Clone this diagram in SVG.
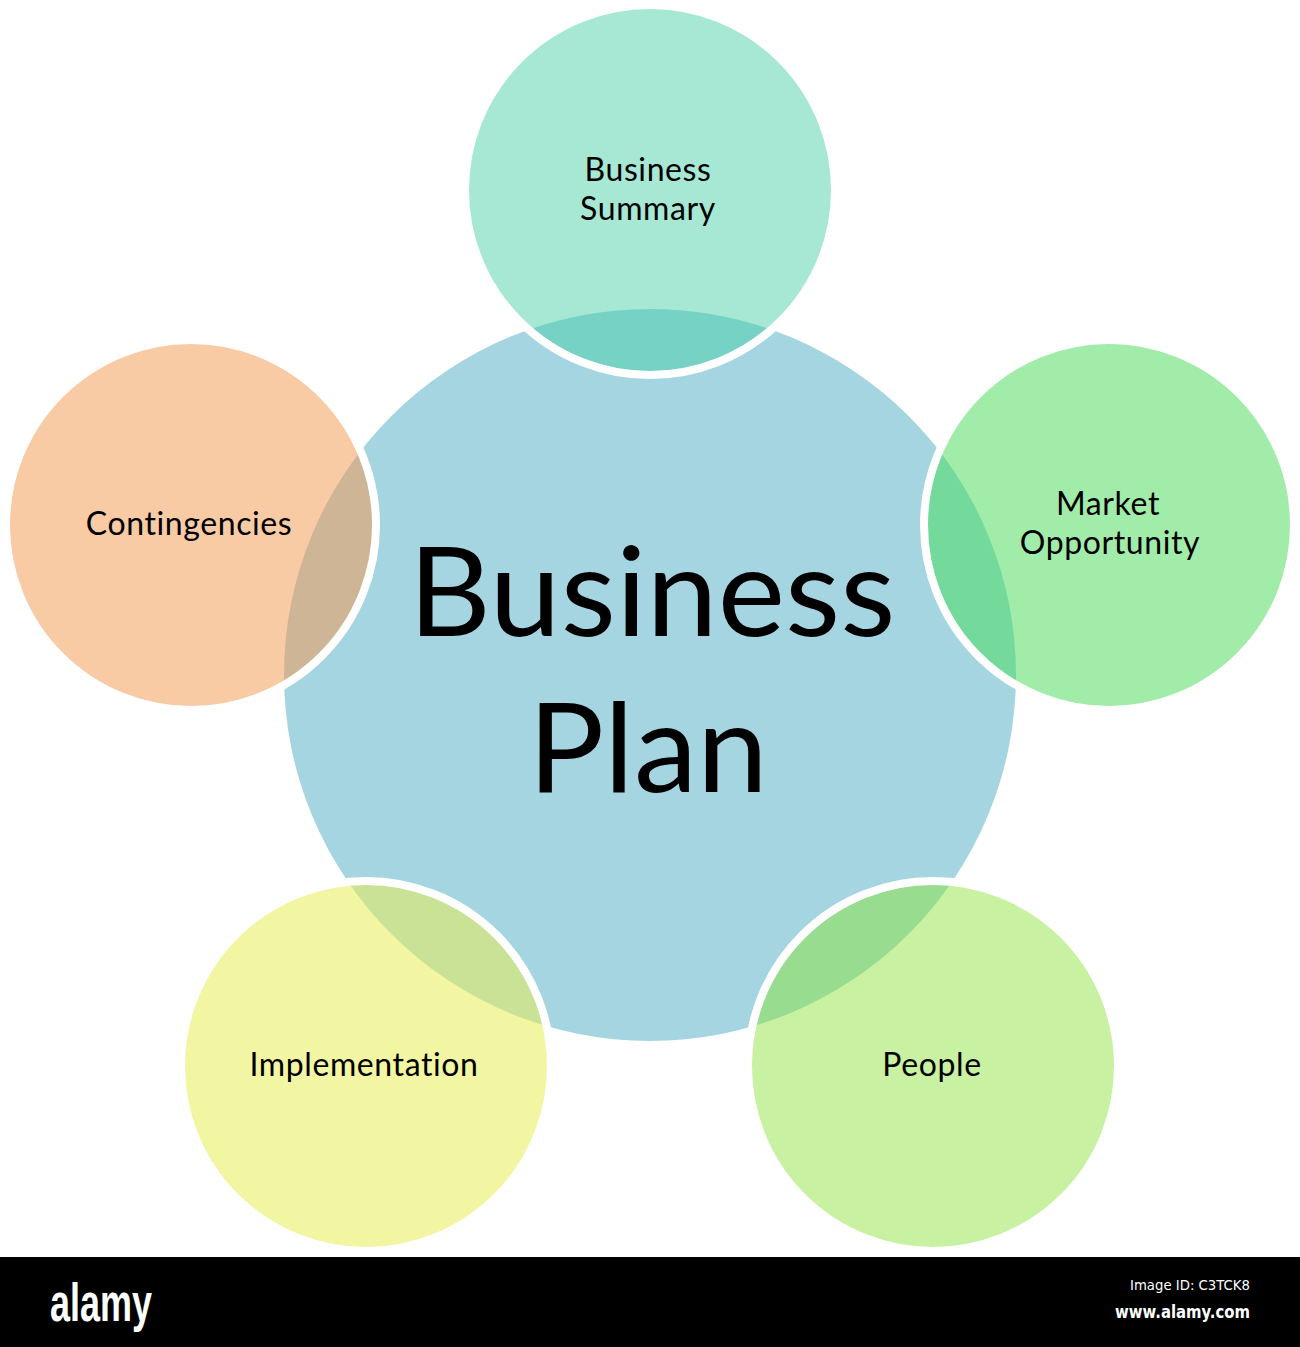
<svg xmlns="http://www.w3.org/2000/svg" width="1300" height="1347" viewBox="0 0 1300 1347">
<style>
.ring{fill:none;stroke:#ffffff;stroke-width:8}
.lbl{font-family:Lato,"Noto Sans",sans-serif;font-size:32px;letter-spacing:0.6px;fill:#000;text-anchor:middle}
.big{font-family:Lato,"Noto Sans",sans-serif;font-size:124px;fill:#000;text-anchor:middle}
</style>
<defs>
<clipPath id="cBS"><circle cx="650" cy="190" r="185"/></clipPath>
<clipPath id="cMO"><circle cx="1109" cy="525" r="185"/></clipPath>
<clipPath id="cCO"><circle cx="191" cy="525" r="185"/></clipPath>
<clipPath id="cIM"><circle cx="366" cy="1066" r="185"/></clipPath>
<clipPath id="cPE"><circle cx="933" cy="1066" r="185"/></clipPath>
</defs>
<rect width="1300" height="1347" fill="#ffffff"/>
<g id="connectors"/>
<g id="center">
<circle cx="650" cy="675" r="366" fill="#A6D5E2"/>
</g>
<g id="business-summary">
<circle cx="650" cy="190" r="185" fill="#A6E8D4"/>
<circle cx="650" cy="675" r="366" fill="#76D2C4" clip-path="url(#cBS)"/>
<circle class="ring" cx="650" cy="190" r="185"/>
<text class="lbl" x="648" y="181">Business</text>
<text class="lbl" x="648" y="220">Summary</text>
</g>
<g id="market-opportunity">
<circle cx="1109" cy="525" r="185" fill="#A2ECAA"/>
<circle cx="650" cy="675" r="366" fill="#74DA9C" clip-path="url(#cMO)"/>
<circle class="ring" cx="1109" cy="525" r="185"/>
<text class="lbl" x="1108" y="515">Market</text>
<text class="lbl" x="1110" y="554">Opportunity</text>
</g>
<g id="contingencies">
<circle cx="191" cy="525" r="185" fill="#F8CBA5"/>
<circle cx="650" cy="675" r="366" fill="#CEB595" clip-path="url(#cCO)"/>
<circle class="ring" cx="191" cy="525" r="185"/>
<text class="lbl" x="189" y="535">Contingencies</text>
</g>
<g id="implementation">
<circle cx="366" cy="1066" r="185" fill="#F2F6A2"/>
<circle cx="650" cy="675" r="366" fill="#CAE296" clip-path="url(#cIM)"/>
<circle class="ring" cx="366" cy="1066" r="185"/>
<text class="lbl" x="364" y="1076">Implementation</text>
</g>
<g id="people">
<circle cx="933" cy="1066" r="185" fill="#C8F2A2"/>
<circle cx="650" cy="675" r="366" fill="#98DC90" clip-path="url(#cPE)"/>
<circle class="ring" cx="933" cy="1066" r="185"/>
<text class="lbl" x="932" y="1076">People</text>
</g>
<g id="center-label">
<text class="big" x="652" y="636" textLength="487" lengthAdjust="spacingAndGlyphs">Business</text>
<text class="big" x="648" y="792" textLength="240" lengthAdjust="spacingAndGlyphs">Plan</text>
</g>
<g id="footer">
<rect x="0" y="1257" width="1300" height="90" fill="#000000"/>
<text x="50" y="1321" font-family="'Liberation Sans',sans-serif" font-weight="bold" font-size="54" fill="#ffffff" textLength="102" lengthAdjust="spacingAndGlyphs">alamy</text>
<text x="1250" y="1290" font-family="'DejaVu Sans',sans-serif" font-size="14" fill="#ffffff" text-anchor="end" textLength="120" lengthAdjust="spacingAndGlyphs">Image ID: C3TCK8</text>
<text x="1250" y="1318" font-family="'DejaVu Sans',sans-serif" font-weight="bold" font-size="17" fill="#ffffff" text-anchor="end" textLength="135" lengthAdjust="spacingAndGlyphs">www.alamy.com</text>
</g>
</svg>
